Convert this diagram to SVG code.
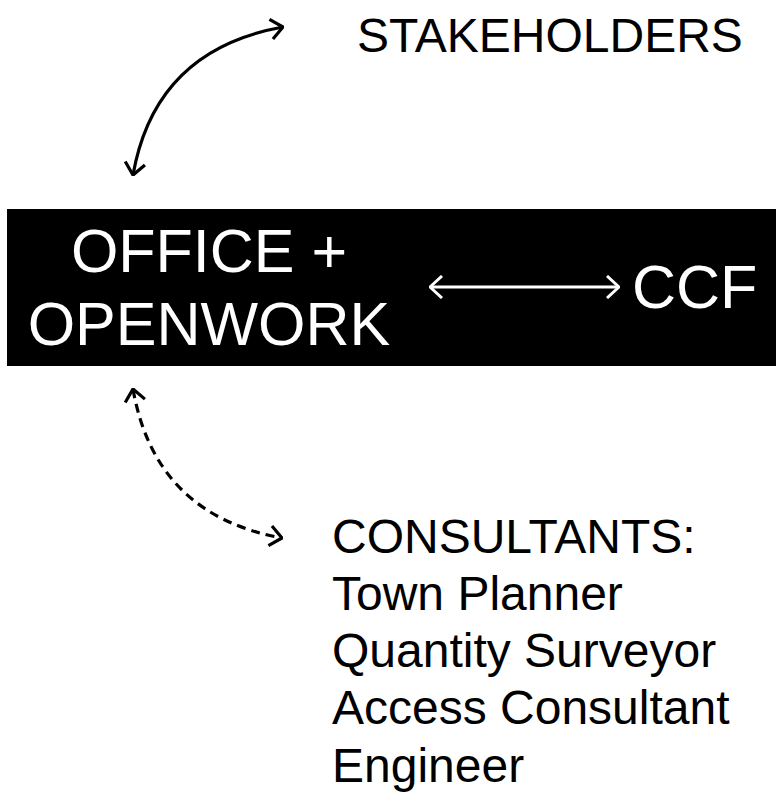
<svg xmlns="http://www.w3.org/2000/svg" width="780" height="799" viewBox="0 0 780 799">
<style>
  .t { font-family: "Liberation Sans", Arial, sans-serif; }
  .blk { fill: #000; font-size: 48px; }
  .wht { fill: #fff; font-size: 61px; }
  .ln { fill: none; stroke: #000; stroke-width: 3.2; }
</style>
<defs>
  <marker id="ab" viewBox="0 0 16 24" refX="15" refY="12" markerWidth="16" markerHeight="24" markerUnits="userSpaceOnUse" orient="auto-start-reverse">
    <path d="M3,2 L15,12 L3,22" fill="none" stroke="#000" stroke-width="3.2" stroke-linecap="butt"/>
  </marker>
  <marker id="aw" viewBox="0 0 16 24" refX="15" refY="12" markerWidth="16" markerHeight="24" markerUnits="userSpaceOnUse" orient="auto-start-reverse">
    <path d="M3,1 L15,12 L3,23" fill="none" stroke="#fff" stroke-width="3" stroke-linecap="butt"/>
  </marker>
</defs>
<rect width="780" height="799" fill="#fff"/>
<g id="office">
  <rect x="7" y="209" width="769" height="157" fill="#000"/>
  <text class="t wht" x="209" y="272" text-anchor="middle">OFFICE +</text>
  <text class="t wht" x="209" y="345" text-anchor="middle">OPENWORK</text>
</g>
<g id="ccf">
  <text class="t wht" x="632" y="308">CCF</text>
</g>
<g id="stakeholders">
  <text class="t blk" x="357" y="52">STAKEHOLDERS</text>
</g>
<g id="consultants">
  <text class="t blk" x="332" y="553">CONSULTANTS:</text>
  <text class="t blk" x="332" y="610">Town Planner</text>
  <text class="t blk" x="332" y="667">Quantity Surveyor</text>
  <text class="t blk" x="332" y="724">Access Consultant</text>
  <text class="t blk" x="332" y="782">Engineer</text>
</g>
<g id="connectors">
  <path class="ln" d="M133,175 Q155,50 283,27" marker-start="url(#ab)" marker-end="url(#ab)"/>
  <path d="M430,287 L619,287" fill="none" stroke="#fff" stroke-width="3" marker-start="url(#aw)" marker-end="url(#aw)"/>
  <path class="ln" d="M133,389 Q155,515 282,538" stroke-dasharray="9,6" marker-start="url(#ab)" marker-end="url(#ab)"/>
</g>
</svg>
